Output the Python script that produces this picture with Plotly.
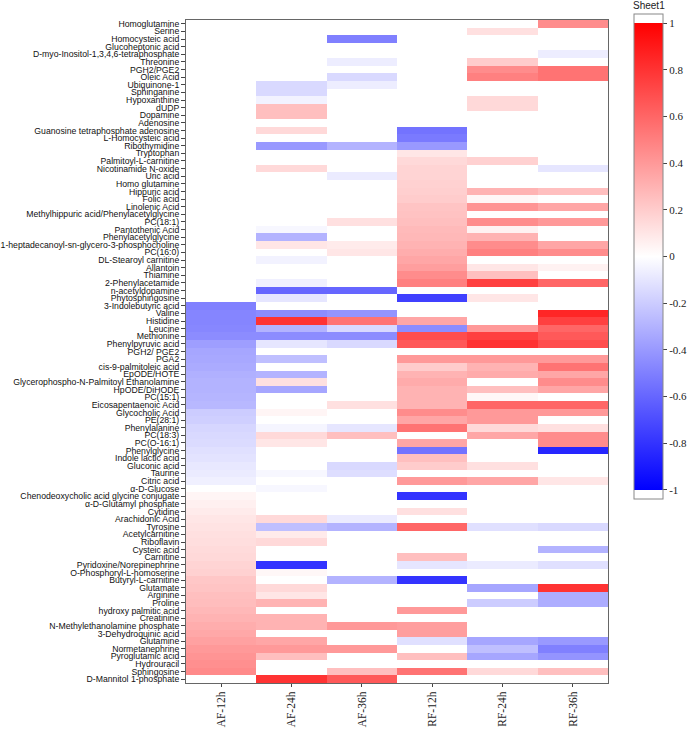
import plotly.graph_objects as go

columns = ["AF-12h", "AF-24h", "AF-36h", "RF-12h", "RF-24h", "RF-36h"]

metabolites = [
    "Homoglutamine", "Serine", "Homocysteic acid", "Glucoheptonic acid",
    "D-myo-Inositol-1,3,4,6-tetraphosphate", "Threonine", "PGH2/PGE2", "Oleic Acid",
    "Ubiquinone-1", "Sphinganine", "Hypoxanthine", "dUDP", "Dopamine", "Adenosine",
    "Guanosine tetraphosphate adenosine", "L-Homocysteic acid", "Ribothymidine",
    "Tryptophan", "Palmitoyl-L-carnitine", "Nicotinamide N-oxide", "Uric acid",
    "Homo glutamine", "Hippuric acid", "Folic acid", "Linolenic Acid",
    "Methylhippuric acid/Phenylacetylglycine", "PC(18:1)", "Pantothenic Acid",
    "Phenylacetylglycine", "1-heptadecanoyl-sn-glycero-3-phosphocholine", "PC(16:0)",
    "DL-Stearoyl carnitine", "Allantoin", "Thiamine", "2-Phenylacetamide",
    "n-acetyldopamine", "Phytosphingosine", "3-Indolebutyric acid", "Valine",
    "Histidine", "Leucine", "Methionine", "Phenylpyruvic acid", "PGH2/ PGE2", "PGA2",
    "cis-9-palmitoleic acid", "EpODE/HOTE", "Glycerophospho-N-Palmitoyl Ethanolamine",
    "HpODE/DiHODE", "PC(15:1)", "Eicosapentaenoic Acid", "Glycocholic Acid",
    "PE(28:1)", "Phenylalanine", "PC(18:3)", "PC(O-16:1)", "Phenylglycine",
    "Indole lactic acid", "Gluconic acid", "Taurine", "Citric acid", "α-D-Glucose",
    "Chenodeoxycholic acid glycine conjugate", "α-D-Glutamyl phosphate", "Cytidine",
    "Arachidonic Acid", "Tyrosine", "Acetylcarnitine", "Riboflavin", "Cysteic acid",
    "Carnitine", "Pyridoxine/Norepinephrine", "O-Phosphoryl-L-homoserine",
    "Butyryl-L-carnitine", "Glutamate", "Arginine", "Proline", "hydroxy palmitic acid",
    "Creatinine", "N-Methylethanolamine phosphate", "3-Dehydroquinic acid", "Glutamine",
    "Normetanephrine", "Pyroglutamic acid", "Hydrouracil", "Sphingosine",
    "D-Mannitol 1-phosphate",
]

af_12h = [
    0, 0, 0, 0, 0, 0, 0, 0, 0, 0,
    0, 0, 0, 0, 0, 0, 0, 0, 0, 0,
    0, 0, 0, 0, 0, 0, 0, 0, 0, 0,
    0, 0, 0, 0, 0, 0, 0, -0.5, -0.48, -0.48,
    -0.47, -0.45, -0.38, -0.35, -0.34, -0.33, -0.31, -0.30, -0.30, -0.29,
    -0.28, -0.20, -0.19, -0.16, -0.15, -0.14, -0.12, -0.11, -0.09, -0.08,
    -0.06, 0, 0.04, 0.06, 0.08, 0.10, 0.11, 0.12, 0.13, 0.14,
    0.15, 0.17, 0.18, 0.22, 0.23, 0.25, 0.26, 0.28, 0.30, 0.32,
    0.34, 0.37, 0.40, 0.42, 0.44, 0.46, 0,
]
af_24h = [
    0, 0, 0, 0, 0, 0, 0, 0, -0.15, -0.15,
    -0.05, 0.25, 0.25, 0, 0.15, 0, -0.4, 0, 0, 0.15,
    0, 0, 0, 0, 0, 0, 0, -0.03, -0.3, 0.1,
    0, -0.05, 0, 0, -0.06, -0.6, -0.1, 0, -0.45, 0.8,
    -0.3, -0.45, -0.1, 0, -0.25, 0, -0.3, 0.12, -0.35, 0,
    0, 0.04, 0, -0.04, 0.15, 0.1, 0, 0, 0, -0.03,
    0, -0.03, 0, 0, 0, 0.15, -0.25, 0.08, 0.15, 0,
    0, -0.8, 0.03, 0, 0.15, 0.1, 0.3, 0, 0.3, 0.3,
    0, 0.35, 0.4, 0.25, 0, 0, 0.8,
]
af_36h = [
    0, 0, -0.5, 0, 0, -0.07, 0, -0.15, -0.07, 0,
    0, 0, 0, 0, 0, 0, -0.3, 0, 0, 0,
    -0.08, 0, 0, 0, 0, 0, 0.12, 0, 0, 0.08,
    0.1, 0, 0, 0, 0, -0.6, 0, 0, -0.42, 0.55,
    -0.15, -0.45, -0.15, 0, 0, 0, 0, 0, 0, 0,
    0.12, 0, 0, -0.1, 0.25, 0, 0, 0, -0.15, -0.13,
    0, 0, 0, 0, 0, -0.08, -0.3, 0, 0, 0,
    0, 0, 0, -0.3, 0, 0, 0, 0, 0, 0.4,
    0, 0, 0.4, 0, 0, 0.25, 0.65,
]
rf_12h = [
    0, 0, 0, 0, 0, 0, 0, 0, 0, 0,
    0, 0, 0, 0, -0.55, -0.52, -0.4, 0.1, 0.15, 0.17,
    0.17, 0.18, 0.19, 0.2, 0.23, 0.24, 0.25, 0.27, 0.28, 0.3,
    0.32, 0.35, 0.38, 0.45, 0.5, 0, -0.75, 0, 0, 0.35,
    -0.45, 0.7, 0.65, 0, 0.4, 0.2, 0.3, 0.33, 0.3, 0.3,
    0.3, 0.45, 0.35, 0.55, 0, 0.35, -0.55, 0.25, 0.2, 0,
    0.4, 0, -0.8, 0, 0.12, 0, 0.6, 0, 0, 0,
    0.25, -0.1, 0, -0.8, 0, 0, 0, 0.4, 0, 0.38,
    0.38, -0.12, 0, 0.25, 0, 0.55, 0,
]
rf_24h = [
    0, 0.12, 0, 0, 0, 0.2, 0.45, 0.5, 0, 0,
    0.15, 0.15, 0, 0, 0, 0, 0, 0, 0.18, 0,
    0, 0, 0.3, 0.03, 0.42, 0, 0.45, 0.05, 0.3, 0.45,
    0.5, 0, 0.1, 0.25, 0.75, 0, 0.1, 0, 0, 0,
    0.4, 0.75, 0.8, 0, 0.4, 0.3, 0.33, 0, 0.25, 0.03,
    0.6, 0.4, 0.4, 0.15, 0.35, 0, 0, 0, 0.12, 0,
    0.35, 0, 0, 0, 0, 0, -0.12, 0, 0, 0,
    0, -0.08, 0, 0, -0.35, 0, -0.2, 0, 0, 0,
    0, -0.35, -0.25, -0.35, 0, 0.15, 0,
]
rf_36h = [
    0.45, 0, 0, 0, -0.07, 0, 0.55, 0.55, 0, 0,
    0, 0, 0, 0, 0, 0, 0, 0, 0, -0.1,
    0, 0, 0.25, 0, 0.35, 0, 0.4, 0, 0, 0.35,
    0.45, 0, 0.05, 0, 0.6, 0, 0, 0, 0.85, 0.75,
    0.6, 0.65, 0.7, 0, 0.4, 0.55, 0.35, 0.45, 0.35, 0,
    0.6, 0.4, 0, 0.12, 0.45, 0.45, -0.85, 0, 0, 0,
    0.1, 0, 0, 0, 0, 0, -0.15, 0, 0, -0.3,
    0, -0.12, 0, 0, 0.8, -0.32, -0.32, 0, 0, 0,
    0, -0.4, -0.5, -0.42, 0, 0.25, 0,
]

colorbar_ticks = [1, 0.8, 0.6, 0.4, 0.2, 0, -0.2, -0.4, -0.6, -0.8, -1]

series = [af_12h, af_24h, af_36h, rf_12h, rf_24h, rf_36h]
z = [list(row) for row in zip(*series)]

lim = 1.04
e = (lim - 1) / (2 * lim)
colorscale = [
    [0, "white"], [e, "white"], [e, "#0000ff"],
    [0.5, "#ffffff"],
    [1 - e, "#ff0000"], [1 - e, "white"], [1, "white"],
]

W, H = 700, 729
PL, PR, PT, PB = 186, 608, 20, 683
pw, ph = PR - PL, PB - PT
CB_LEFT, CB_TOP, CB_BOTTOM = 634, 14, 499

fig = go.Figure(go.Heatmap(
    z=z, x=columns, y=metabolites,
    zmin=-lim, zmax=lim, colorscale=colorscale,
    xgap=0, ygap=0,
    colorbar=dict(
        thickness=29, thicknessmode="pixels",
        len=CB_BOTTOM - CB_TOP, lenmode="pixels",
        x=(CB_LEFT - PL) / pw, xanchor="left", xpad=0,
        y=(PB - CB_TOP) / ph, yanchor="top", ypad=0,
        outlinewidth=1, outlinecolor="#888",
        tickvals=colorbar_ticks, ticktext=[str(t) for t in colorbar_ticks],
        ticks="outside", ticklen=4, tickcolor="#444",
        tickfont=dict(family="Liberation Serif", size=11, color="#222"),
    ),
))

fig.add_annotation(
    text="Sheet1", xref="paper", yref="paper",
    x=(CB_LEFT + 14.5 - PL) / pw, y=(PB - CB_TOP + 1) / ph,
    xanchor="center", yanchor="bottom", showarrow=False,
    font=dict(family="Liberation Sans", size=10, color="#222"),
)

fig.update_layout(
    width=W, height=H,
    margin=dict(l=PL, r=W - PR, t=PT, b=H - PB, autoexpand=False),
    paper_bgcolor="white", plot_bgcolor="white",
    xaxis=dict(
        type="category", tickangle=-90, ticks="outside", ticklen=3, tickcolor="#444",
        tickfont=dict(family="Liberation Serif", size=11.5, color="#222"),
        showline=True, linecolor="#666", linewidth=1, mirror=True,
        showgrid=False, zeroline=False, automargin=False,
    ),
    yaxis=dict(
        type="category", autorange="reversed", ticks="outside", ticklen=4,
        tickcolor="#444",
        tickfont=dict(family="Liberation Sans", size=8.7, color="#111"),
        showline=True, linecolor="#666", linewidth=1, mirror=True,
        showgrid=False, zeroline=False, dtick=1, automargin=False,
    ),
)

fig.write_html(
    "out.html",
    config={"displayModeBar": False},
    post_script="document.body.style.margin='0';document.body.style.padding='0';",
)
